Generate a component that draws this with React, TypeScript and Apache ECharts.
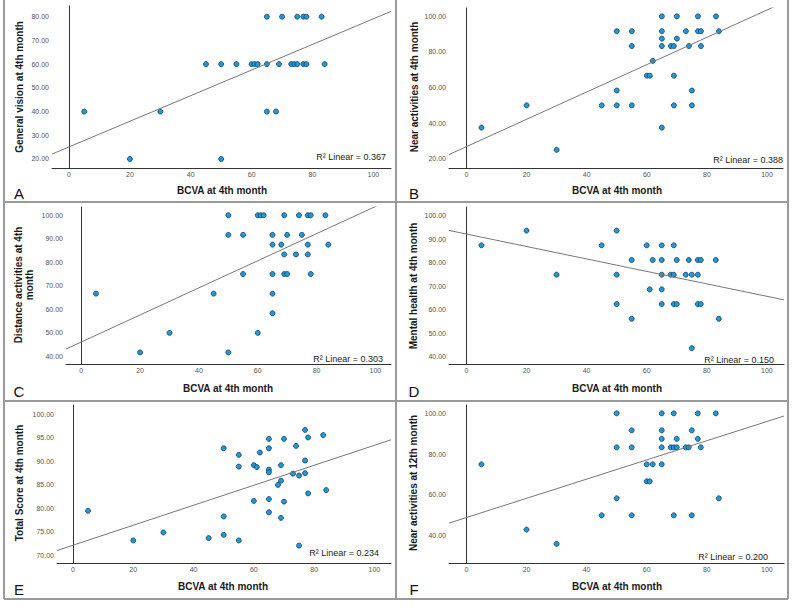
import React, { useEffect, useRef } from "react";
import * as echarts from "echarts";

// ---- data ----
const xTicks = [0, 20, 40, 60, 80, 100];

const xA = [5, 20, 30, 45, 50, 50, 55, 60, 61, 62, 65, 65, 65, 68, 69, 70, 73, 74, 75, 75, 77, 78, 77, 78, 83, 84];
const yA = [40, 20, 40, 60, 60, 20, 60, 60, 60, 60, 60, 80, 40, 40, 60, 80, 60, 60, 60, 80, 80, 80, 60, 60, 80, 60];

const xB = [5, 20, 30, 45, 50, 50, 50, 55, 55, 55, 60, 61, 62, 65, 65, 65, 65, 65, 68, 69, 69, 69, 70, 70, 73, 74, 75, 75, 77, 77, 78, 78, 83, 84];
const yB = [37.5, 50, 25, 50, 91.67, 58.33, 50, 91.67, 83.33, 50, 66.67, 66.67, 75, 100, 91.67, 87.5, 83.33, 37.5, 83.33, 83.33, 66.67, 50, 100, 87.5, 91.67, 83.33, 58.33, 50, 100, 91.67, 91.67, 83.33, 100, 91.67];

const xC = [5, 20, 30, 45, 50, 50, 50, 55, 55, 60, 61, 62, 60, 65, 65, 65, 65, 65, 68, 69, 69, 69, 70, 70, 73, 74, 75, 77, 78, 77, 77, 78, 83, 84];
const yC = [66.67, 41.67, 50, 66.67, 100, 91.67, 41.67, 91.67, 75, 100, 100, 100, 50, 91.67, 87.5, 75, 66.67, 58.33, 87.5, 100, 83.33, 75, 91.67, 75, 83.33, 100, 91.67, 100, 100, 87.5, 83.33, 75, 100, 87.5];

const xD = [5, 20, 30, 45, 50, 50, 50, 55, 55, 60, 61, 62, 65, 65, 65, 65, 65, 68, 69, 69, 69, 70, 70, 73, 74, 75, 75, 77, 78, 77, 77, 78, 83, 84];
const yD = [87.5, 93.75, 75, 87.5, 93.75, 75, 62.5, 81.25, 56.25, 87.5, 68.75, 81.25, 87.5, 81.25, 75, 68.75, 62.5, 75, 87.5, 75, 62.5, 81.25, 62.5, 75, 81.25, 75, 43.75, 81.25, 81.25, 75, 62.5, 62.5, 81.25, 56.25];

const xE = [5, 20, 30, 45, 50, 50, 50, 55, 55, 55, 60, 60, 61, 62, 65, 65, 65, 65, 65, 65, 68, 69, 69, 69, 70, 70, 73, 74, 75, 75, 77, 77, 77, 78, 78, 83, 84];
const yE = [79.5, 73.2, 74.9, 73.7, 92.8, 78.3, 74.4, 91.4, 88.9, 73.2, 89.2, 81.6, 88.8, 91.9, 94.8, 92.8, 88.25, 87.7, 82.0, 79.2, 85.0, 89.2, 85.9, 78.0, 94.8, 81.45, 87.4, 93.3, 87.0, 72.1, 96.7, 90.2, 87.5, 95.1, 83.2, 95.6, 83.9];

const xF = [5, 20, 30, 45, 50, 50, 50, 55, 55, 55, 60, 60, 61, 62, 65, 65, 65, 65, 65, 68, 69, 69, 69, 70, 70, 73, 74, 75, 75, 77, 77, 78, 83, 84];
const yF = [75, 43, 36, 50, 100, 83.33, 58.33, 91.67, 83.33, 50, 75, 66.67, 66.67, 75, 100, 91.67, 87.5, 83.33, 75, 83.33, 100, 83.33, 50, 87.5, 83.33, 83.33, 83.33, 91.67, 50, 100, 87.5, 83.33, 100, 58.33];

const yTitles = [
  "General vision at 4th month",
  "Near activities at 4th month",
  "Distance activities at 4th\nmonth",
  "Mental health at 4th month",
  "Total Score at 4th month",
  "Near activities at 12th month",
];
const xTitle = "BCVA at 4th month";
const panelLetters = ["A", "B", "C", "D", "E", "F"];
const r2Values = ["0.367", "0.388", "0.303", "0.150", "0.234", "0.200"];
const fitIntercepts = [25.1, 26.8, 46.1, 92.3, 72.18, 48.9];
const fitSlopes = [0.54, 0.768, 0.576, -0.265, 0.2125, 0.471];
const yTicksA = [20, 30, 40, 50, 60, 70, 80];
const yTicksB = [20, 40, 60, 80, 100];
const yTicksC = [40, 50, 60, 70, 80, 90, 100];
const yTicksD = [40, 50, 60, 70, 80, 90, 100];
const yTicksE = [70, 75, 80, 85, 90, 95, 100];
const yTicksF = [40, 60, 80, 100];

const xs = [xA, xB, xC, xD, xE, xF];
const ys = [yA, yB, yC, yD, yE, yF];
const yTicks = [yTicksA, yTicksB, yTicksC, yTicksD, yTicksE, yTicksF];

// ---- layout ----
const layout = [
  { left: 52, top: 6, width: 339, height: 162, xMin: -5.6, xMax: 105.8, yMin: 16.2, yMax: 84.5 },
  { left: 449, top: 8, width: 334, height: 160, xMin: -5.8, xMax: 105.3, yMin: 14.8, yMax: 104.7 },
  { left: 66, top: 207, width: 325, height: 157, xMin: -5.2, xMax: 105.3, yMin: 36.75, yMax: 103.5 },
  { left: 449, top: 207, width: 335, height: 157, xMin: -5.8, xMax: 105.7, yMin: 37.0, yMax: 103.8 },
  { left: 57, top: 405, width: 334, height: 158, xMin: -5.3, xMax: 105.5, yMin: 68.4, yMax: 102.0 },
  { left: 449, top: 405, width: 335, height: 158, xMin: -5.8, xMax: 105.7, yMin: 26.6, yMax: 104.1 },
];
const yTitlePos = [
  [19, 87], [414, 87], [24, 285], [413, 286], [19, 483], [413, 483],
];
const xTitlePos = [
  [222, 190], [617, 190], [228, 388], [617, 388], [223, 586], [617, 586],
];
const letterPos = [
  [19, 193], [414, 193], [19, 391], [414, 391], [19, 589], [414, 589],
];
const r2Pos = [
  [386, 157], [783, 160], [383, 359], [774, 360], [379, 553], [768, 557],
];

const FONT = "'Liberation Sans', Arial, sans-serif";

export default function App() {
  const ref = useRef<HTMLDivElement>(null);
  useEffect(() => {
    document.body.style.margin = "0";
    const chart = echarts.init(ref.current!, null, { renderer: "svg" });
    const grid: any[] = [];
    const xAxis: any[] = [];
    const yAxis: any[] = [];
    const series: any[] = [];
    const graphic: any[] = [];

    layout.forEach((L, i) => {
      grid.push({ left: L.left, top: L.top, width: L.width, height: L.height });
      xAxis.push({
        type: "value", gridIndex: i, min: L.xMin, max: L.xMax,
        axisLine: { show: true, lineStyle: { color: "#333", width: 1 } },
        axisTick: { show: false },
        splitLine: { show: false },
        axisLabel: {
          customValues: xTicks, color: "#555", fontSize: 7, fontFamily: FONT, margin: 3,
          formatter: (v: number) => String(Math.round(v)),
        },
      });
      yAxis.push({
        type: "value", gridIndex: i, min: L.yMin, max: L.yMax,
        axisLine: { show: true, lineStyle: { color: "#333", width: 1 } },
        axisTick: { show: false },
        splitLine: { show: false },
        axisLabel: {
          customValues: yTicks[i], color: "#555", fontSize: 7, fontFamily: FONT, margin: 3,
          formatter: (v: number) => v.toFixed(2),
        },
      });
      series.push({
        type: "line", xAxisIndex: i, yAxisIndex: i, symbol: "none", clip: true,
        lineStyle: { color: "#777", width: 1 }, silent: true,
        data: [L.xMin, L.xMax].map((x) => [x, fitIntercepts[i] + fitSlopes[i] * x]),
      });
      series.push({
        type: "scatter", xAxisIndex: i, yAxisIndex: i, symbolSize: 5,
        itemStyle: { color: "#1e9ad8", borderColor: "#163a5e", borderWidth: 0.8, opacity: 1 },
        data: xs[i].map((x, k) => [x, ys[i][k]]),
      });

      graphic.push({
        type: "text", x: yTitlePos[i][0], y: yTitlePos[i][1], rotation: Math.PI / 2,
        style: {
          text: yTitles[i], font: `bold 10px ${FONT}`, fill: "#1a1a1a",
          align: "center", verticalAlign: "middle", lineHeight: 11,
        },
      });
      graphic.push({
        type: "text", x: xTitlePos[i][0], y: xTitlePos[i][1],
        style: { text: xTitle, font: `bold 10px ${FONT}`, fill: "#1a1a1a", align: "center", verticalAlign: "middle" },
      });
      graphic.push({
        type: "text", x: letterPos[i][0], y: letterPos[i][1],
        style: { text: panelLetters[i], font: `15px ${FONT}`, fill: "#111", align: "center", verticalAlign: "middle" },
      });
      graphic.push({
        type: "text", x: r2Pos[i][0], y: r2Pos[i][1],
        style: {
          text: `R² Linear = ${r2Values[i]}`, font: `9px ${FONT}`, fill: "#222",
          align: "right", verticalAlign: "middle",
        },
      });
    });

    const border = { stroke: "#9a9a9a", lineWidth: 2 };
    const lines = [
      [4, 0, 4, 599], [788, 0, 788, 599], [396, 0, 396, 599],
      [4, 202, 788, 202], [4, 401, 788, 401], [4, 599, 788, 599],
    ];
    lines.forEach((l) =>
      graphic.push({ type: "line", shape: { x1: l[0], y1: l[1], x2: l[2], y2: l[3] }, style: border, silent: true })
    );

    chart.setOption({ animation: false, backgroundColor: "#fff", grid, xAxis, yAxis, series, graphic });
    return () => chart.dispose();
  }, []);
  return <div ref={ref} style={{ position: "absolute", left: 0, top: 0, width: 795, height: 607 }} />;
}
